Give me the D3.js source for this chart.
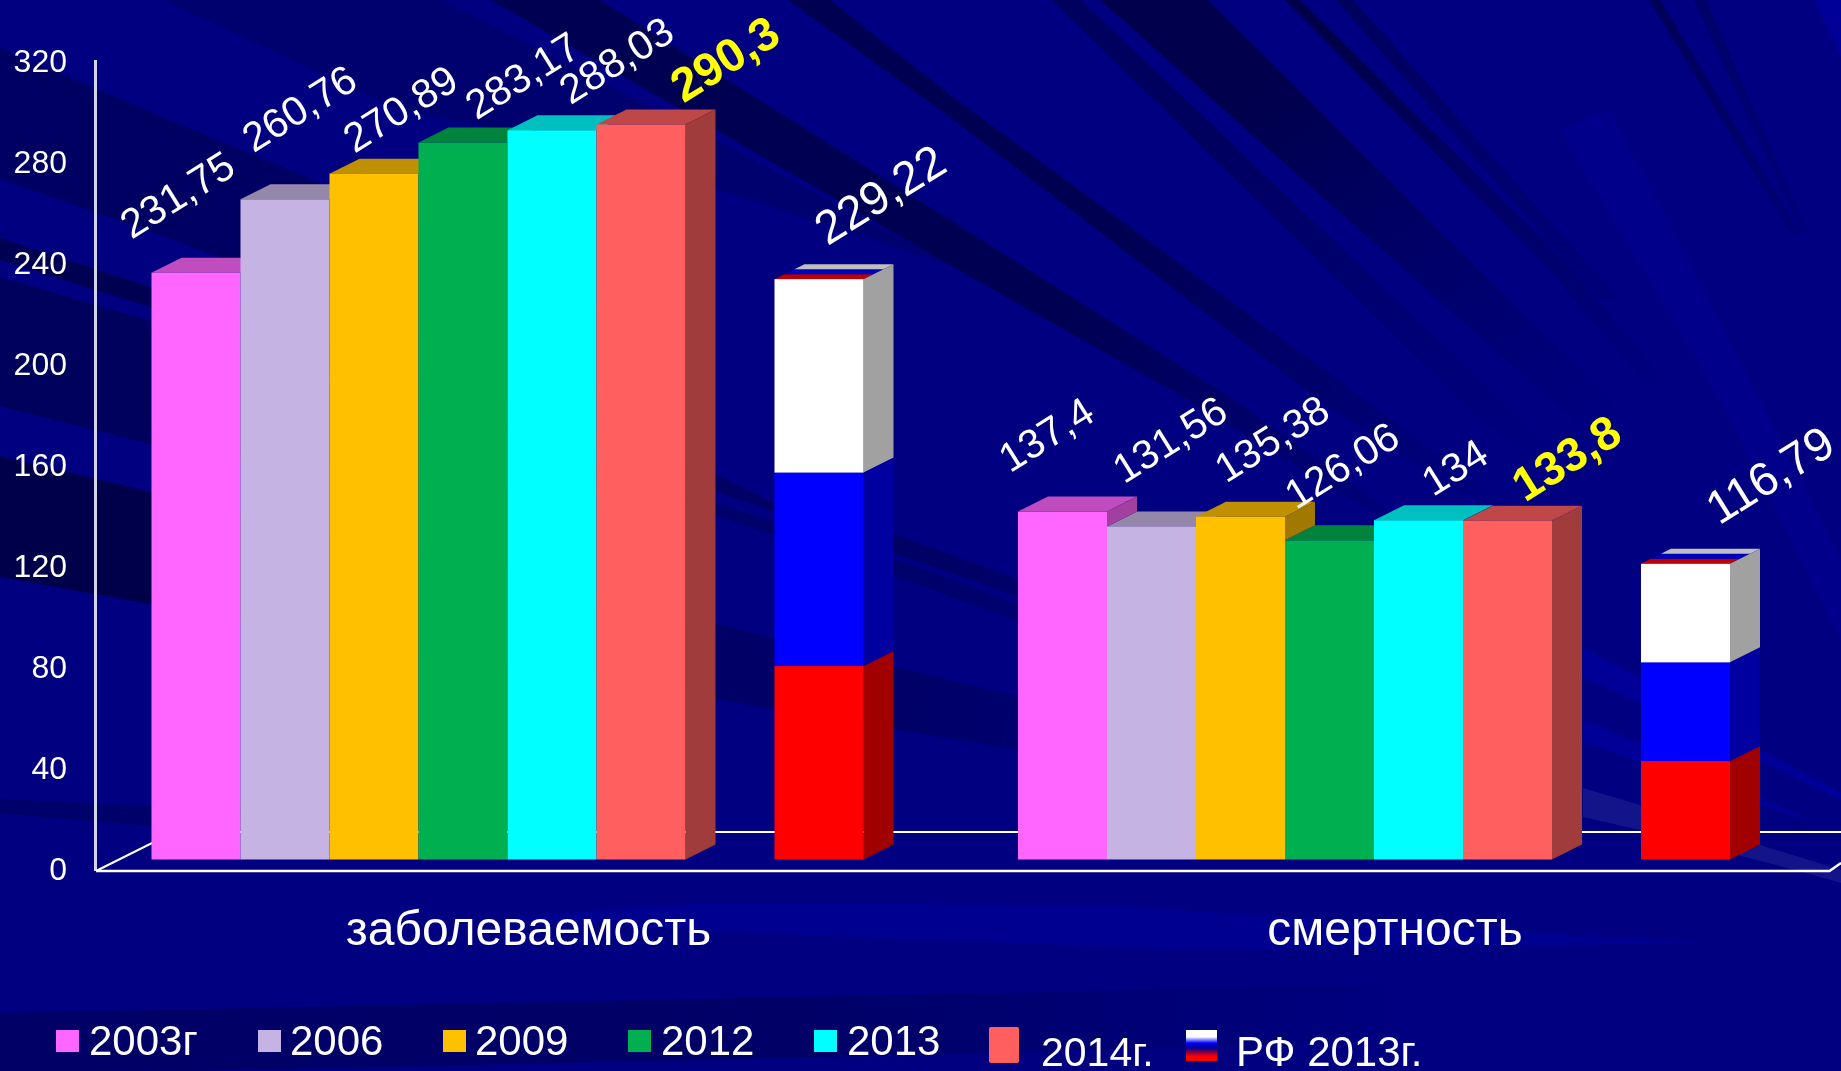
<!DOCTYPE html>
<html><head><meta charset="utf-8">
<script src="https://cdn.jsdelivr.net/npm/d3@7"></script>
<style>html,body{margin:0;padding:0;background:#000080;overflow:hidden}svg{display:block}text{font-family:"Liberation Sans",Arial,sans-serif;fill:#fff}</style>
</head><body><svg id="c" width="1841" height="1071"></svg>
<script>
// ---- data ----
const categories = ["заболеваемость","смертность"];
const seriesNames = ["2003г","2006","2009","2012","2013","2014г."];
const incidence = [231.75,260.76,270.89,283.17,288.03,290.3];
const mortality = [137.4,131.56,135.38,126.06,134,133.8];
const rfIncidenceParts = [76.41,76.41,76.40];
const rfMortalityParts = [38.93,38.93,38.93];
const rfTotals = ["229,22","116,79"];
const incidenceLabels = ["231,75","260,76","270,89","283,17","288,03","290,3"];
const mortalityLabels = ["137,4","131,56","135,38","126,06","134","133,8"];
const yTicks = [0,40,80,120,160,200,240,280,320];
const seriesColors = ["#FF66FF","#C5B4E3","#FFC000","#00B050","#00FFFF","#FF5F5F"];
const rfColors = ["#FF0000","#0000FF","#FFFFFF"];
const rfLegend = "РФ 2013г.";
// label offsets from bar's top-left (hand placed in the source)
const labelOffsets = [[[-20,-33],[13,-46],[25,-20],[58,-22],[63,-25],[87,-21]],[[-8,-38],[17,-42],[30,-33],[11,-30],[59,-23],[62,-18]]];
const rfLabelOffsets = [[53,-33],[78,-38]];

const svg = d3.select("#c");
const W=1841,H=1071;
const defs = svg.append("defs");
const rg = defs.append("radialGradient").attr("id","fade").attr("gradientUnits","userSpaceOnUse")
  .attr("cx",1900).attr("cy",880).attr("r",1100);
[[0.5,0],[0.73,0.5],[0.92,1],[1,1]].forEach(([o,v])=>rg.append("stop").attr("offset",o).attr("stop-color","#fff").attr("stop-opacity",v));
defs.append("mask").attr("id","fm").attr("maskUnits","userSpaceOnUse").attr("x",0).attr("y",0).attr("width",W).attr("height",H)
  .append("rect").attr("width",W).attr("height",H).attr("fill","url(#fade)");
const lg = defs.append("linearGradient").attr("id","flag").attr("x1",0).attr("x2",0).attr("y1",0).attr("y2",1);
[[0,"#fff"],[.22,"#fff"],[.42,"#0000ff"],[.58,"#000090"],[.85,"#ff0000"],[1,"#ff0000"]].forEach(([o,c])=>lg.append("stop").attr("offset",o).attr("stop-color",c));
const fg = defs.append("linearGradient").attr("id","botfade").attr("x1",0).attr("x2",1).attr("y1",0).attr("y2",0);
[[0,1],[.55,1],[1,0]].forEach(([o,v])=>fg.append("stop").attr("offset",o).attr("stop-color","#000066").attr("stop-opacity",v));

// ---- background rays (decoration) ----
const bg = svg.append("g");
bg.append("rect").attr("width",W).attr("height",H).attr("fill","#000080");
const darkRays = [
 {o:.3,p:[[164,0],[442,0],[715,140],[950,265],[600,150],[400,110]]},
 {o:.55,p:[[0,48],[160,116],[600,300],[600,400],[160,235],[0,179]]},
 {o:.85,p:[[491,0],[600,0],[950,220],[1234,400],[1500,590],[1189,400],[950,265]]},
 {o:.85,p:[[788,0],[830,0],[950,95],[1365,400],[1700,650],[1319,400],[950,117]]},
 {o:.95,p:[[1100,0],[1208,0],[1609,400],[1850,680],[1552,400]]},
 {o:.6,p:[[1052,0],[1081,0],[1501,400],[1750,660],[1461,400]]},
 {o:1,p:[[1285,0],[1300,0],[1570,267],[1680,400],[1660,400],[1547,267]]},
 {o:.6,p:[[1336,0],[1353,0],[1620,300],[1600,300]]},
 {o:1,p:[[1649,0],[1660,0],[1800,233],[1791,233]]},
 {o:.6,p:[[1694,0],[1706,0],[1808,233],[1802,233]]},
 {o:.85,p:[[0,238],[150,287],[700,469],[700,486],[150,307],[0,260]]},
 {o:.5,p:[[700,469],[715,474],[773,503],[893,534],[1020,580],[1300,690],[1020,597],[715,491],[700,486]]},
 {o:.65,p:[[0,277],[150,321],[700,498],[700,510],[150,444],[0,406]]},
 {o:.4,p:[[700,498],[715,503],[893,559],[1020,605],[1300,700],[1020,622],[893,575],[715,515],[700,510]]},
 {o:1,p:[[0,456],[150,492],[700,620],[700,696],[150,604],[0,577]]},
 {o:.45,p:[[700,620],[715,624],[1020,697],[1400,790],[1020,750],[715,699],[700,696]]},
 {o:.4,p:[[0,799],[150,806],[600,820],[600,845],[150,826],[0,813]]},
];
bg.append("g").attr("mask","url(#fm)").selectAll("path").data(darkRays).join("path")
  .attr("d",d=>d3.line()(d.p)+"Z").attr("fill","#00004a").attr("fill-opacity",d=>d.o);
const lightRays = [
 {c:"#000098",p:[[1814,0],[1841,0],[1841,57]]},
 {c:"#00008a",p:[[1560,130],[1610,110],[1760,400],[1841,560],[1841,640],[1720,400]]},
 {c:"#000098",p:[[1583,648],[1640,678],[1760,750],[1841,792],[1841,800],[1640,703],[1583,677]]},
 {c:"#000098",p:[[1583,720],[1640,743],[1760,797],[1813,823],[1640,762],[1583,742]]},
 {c:"#14148A",p:[[1583,788],[1640,805],[1760,845],[1841,870],[1841,883],[1803,872],[1640,830],[1583,817]]},
 {c:"#000090",p:[[700,903],[1100,905],[1702,943],[1200,950],[800,935],[500,918]]},
];
bg.selectAll("path.l").data(lightRays).join("path").attr("class","l")
  .attr("d",d=>d3.line()(d.p)+"Z").attr("fill",d=>d.c);
bg.append("path").attr("d","M0,1013L1000,993L1400,985L1400,1040L1000,1053L191,1071L0,1071Z").attr("fill","url(#botfade)");

const chart = svg.append("g").style("filter","blur(0.6px)");

// ---- scales ----
const yFront = d3.scaleLinear().domain([0,320]).range([859.5,49.3]);
const yAxisScale = d3.scaleLinear().domain([0,320]).range([870,62]);
const x0 = d3.scaleBand().domain(categories).range([151.5,1730]).paddingInner(.1783).paddingOuter(0);
const slots = [...seriesNames,"gap","РФ"];
const x1 = d3.scaleBand().domain(slots).range([0,x0.bandwidth()]);
const dx=30, dy=15;
const shade=(c,k)=>{const r=d3.rgb(c);return d3.rgb(r.r*k,r.g*k,r.b*k).formatHex();};

// ---- floor and wall ----
const wall = chart.append("g").attr("fill","none").attr("stroke","#fff");
const ln=d3.line();
wall.append("path").attr("d",ln([[95.5,60],[95.5,871]])).attr("stroke-width",3).attr("stroke","#D4D4EE");
wall.append("path").attr("d",ln([[96,871],[174,832],[1841,832]])).attr("stroke-width",2);
wall.append("path").attr("d",ln([[96,871],[1829.5,871],[1841,863]])).attr("stroke-width",2.4);

// ---- bars ----
const groups = [
 {cat:categories[0],vals:incidence,labels:incidenceLabels,rf:rfIncidenceParts,rfL:rfTotals[0],off:labelOffsets[0],rfOff:rfLabelOffsets[0]},
 {cat:categories[1],vals:mortality,labels:mortalityLabels,rf:rfMortalityParts,rfL:rfTotals[1],off:labelOffsets[1],rfOff:rfLabelOffsets[1]}
];
const bw=x1.bandwidth();
const tops=chart.append("g"), sides=chart.append("g"), fronts=chart.append("g"), labels=chart.append("g");
groups.forEach(g=>{
  const X=i=>x0(g.cat)+x1(seriesNames[i]);
  g.vals.forEach((v,i)=>{
    const x=X(i),t=yFront(v),c=seriesColors[i];
    tops.append("path").attr("d",ln([[x,t],[x+dx,t-dy],[x+bw+dx,t-dy],[x+bw,t]])+"Z").attr("fill",shade(c,.75));
    // only the part of a side above the next bar is visible
    const next=i<5?g.vals[i+1]:0;
    if(next<v){
      const b=yFront(next);
      sides.append("path").attr("d",ln([[x+bw,t],[x+bw+dx,t-dy],[x+bw+dx,b-dy],[x+bw,b]])+"Z").attr("fill",shade(c,.63));
    }
    fronts.append("rect").attr("x",x).attr("y",t).attr("width",bw).attr("height",yFront(0)-t).attr("fill",c);
    labels.append("text").text(g.labels[i])
      .attr("transform",`translate(${x+g.off[i][0]},${t+g.off[i][1]}) rotate(-32)`)
      .attr("font-size",i==5?47:41).attr("font-weight",i==5?"bold":"normal")
      .style("fill",i==5?"#FFFF00":"#fff");
  });
  // stacked RF bar
  const x=x0(g.cat)+x1("РФ"); let cum=0;
  g.rf.forEach((v,k)=>{
    const b=yFront(cum),t=yFront(cum+v);cum+=v;
    sides.append("path").attr("d",ln([[x+bw,t],[x+bw+dx,t-dy],[x+bw+dx,b-dy],[x+bw,b]])+"Z").attr("fill",shade(rfColors[k],.63));
    fronts.append("rect").attr("x",x).attr("y",t).attr("width",bw).attr("height",b-t).attr("fill",rfColors[k]);
  });
  const t=yFront(cum);
  rfColors.forEach((c,k)=>{
    const a=k/3,e=(k+1)/3;
    tops.append("path").attr("d",ln([[x+dx*a,t-dy*a],[x+dx*e,t-dy*e],[x+bw+dx*e,t-dy*e],[x+bw+dx*a,t-dy*a]])+"Z").attr("fill",shade(c,.75));
  });
  labels.append("text").text(g.rfL)
    .attr("transform",`translate(${x+g.rfOff[0]},${t+g.rfOff[1]}) rotate(-32)`).attr("font-size",47);
});

// ---- axes ----
const yA = chart.append("g").attr("transform","translate(67,0)").call(d3.axisLeft(yAxisScale).tickValues(yTicks).tickSize(0).tickPadding(0));
yA.select(".domain").remove();
yA.selectAll("text").attr("font-size",32).attr("font-family",null).attr("dy","0.3em");
const xA = chart.append("g").attr("transform","translate(21,932)").call(d3.axisBottom(x0).tickSize(0).tickPadding(0));
xA.select(".domain").remove();
xA.selectAll("text").attr("font-size",48).attr("font-family",null).attr("dy","0.27em");

// ---- legend ----
const legX=[56,258,443,628,814], legT=[89,290,475,661,847];
const leg = chart.append("g");
seriesNames.slice(0,5).forEach((n,i)=>{
  leg.append("rect").attr("x",legX[i]).attr("y",1030).attr("width",23).attr("height",22).attr("fill",seriesColors[i]);
  leg.append("text").text(n).attr("x",legT[i]).attr("y",1055).attr("font-size",42);
});
leg.append("rect").attr("x",989).attr("y",1027).attr("width",30).attr("height",36).attr("rx",2).attr("fill",seriesColors[5]);
leg.append("text").text(seriesNames[5]).attr("x",1041).attr("y",1066).attr("font-size",41);
leg.append("rect").attr("x",1186).attr("y",1030).attr("width",31).attr("height",31).attr("fill","url(#flag)");
leg.append("text").text(rfLegend).attr("x",1236).attr("y",1066).attr("font-size",42);
</script></body></html>
